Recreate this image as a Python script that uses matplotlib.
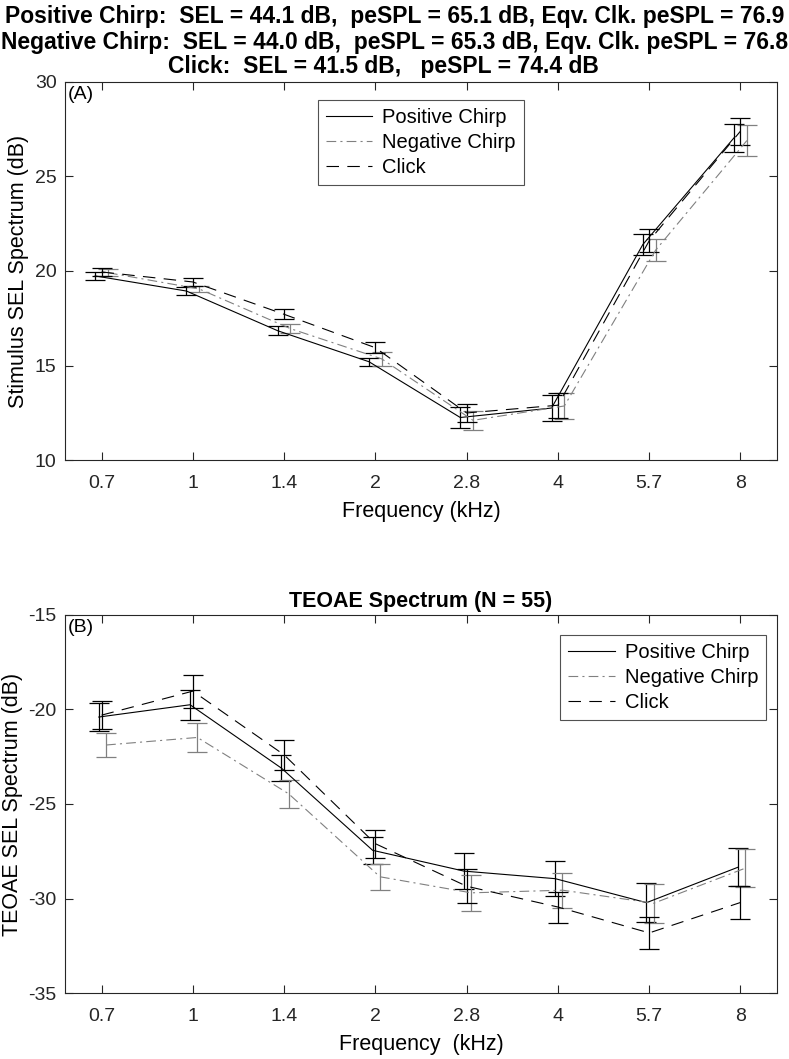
import matplotlib
matplotlib.use('Agg')
import matplotlib.pyplot as plt
import numpy as np

plt.rcParams['font.family'] = ['Liberation Sans', 'DejaVu Sans']
plt.rcParams['lines.scale_dashes'] = False

# frequency bands (kHz)
freqs = ['0.7', '1', '1.4', '2', '2.8', '4', '5.7', '8']

# (A) stimulus SEL spectrum, dB
sel_pos = [19.74, 18.94, 16.84, 15.20, 12.25, 12.75, 21.40, 27.05]
sel_pos_err = [0.22, 0.22, 0.25, 0.22, 0.55, 0.69, 0.55, 0.75]
sel_neg = [19.91, 19.05, 16.95, 15.35, 12.10, 12.86, 21.10, 26.90]
sel_neg_err = [0.18, 0.18, 0.25, 0.35, 0.50, 0.70, 0.57, 0.80]
sel_clk = [19.95, 19.42, 17.71, 15.94, 12.49, 12.90, 21.60, 27.40]
sel_clk_err = [0.21, 0.20, 0.26, 0.30, 0.50, 0.66, 0.60, 0.72]

# (B) TEOAE SEL spectrum, dB
oae_pos = [-20.40, -19.75, -23.10, -27.45, -28.55, -28.95, -30.22, -28.35]
oae_pos_err = [0.75, 0.80, 0.70, 0.70, 0.95, 0.93, 1.03, 1.00]
oae_neg = [-21.88, -21.48, -24.46, -28.85, -29.70, -29.56, -30.25, -28.40]
oae_neg_err = [0.61, 0.76, 0.75, 0.68, 0.95, 0.93, 1.03, 1.00]
oae_clk = [-20.30, -19.03, -22.40, -27.10, -29.35, -30.45, -31.82, -30.21]
oae_clk_err = [0.75, 0.88, 0.80, 0.75, 0.90, 0.82, 0.84, 0.88]

title_lines = ['Positive Chirp:  SEL = 44.1 dB,  peSPL = 65.1 dB, Eqv. Clk. peSPL = 76.9',
               'Negative Chirp:  SEL = 44.0 dB,  peSPL = 65.3 dB, Eqv. Clk. peSPL = 76.8',
               'Click:  SEL = 41.5 dB,   peSPL = 74.4 dB']

GRAY = (0.5, 0.5, 0.5)
x = np.arange(1, len(freqs) + 1)

fig = plt.figure(figsize=(7.89, 10.59), dpi=100)
axA = fig.add_axes([0.0824, 0.5656, 0.9024, 0.357])
axB = fig.add_axes([0.0824, 0.0623, 0.9024, 0.357])


def panel(ax, pos, pe, neg, ne, clk, ce, off, legloc, bbox):
    ax.errorbar(x + off[0], pos, yerr=pe, color='k', ls='-', lw=0.8,
                capsize=7, elinewidth=0.9, capthick=0.9, label='Positive Chirp')
    ax.errorbar(x + off[1], neg, yerr=ne, color=GRAY, ls=(0, (7, 3, 1.5, 3)), lw=0.8,
                capsize=7, elinewidth=0.9, capthick=0.9, label='Negative Chirp')
    ax.errorbar(x + off[2], clk, yerr=ce, color='k', ls=(0, (9, 6)), lw=0.8,
                capsize=7, elinewidth=0.9, capthick=0.9, label='Click')
    ax.set_xlim(0.6, 8.4)
    ax.set_xticks(x)
    ax.set_xticklabels(freqs)
    ax.tick_params(direction='in', top=True, right=True, length=6, width=0.8,
                   labelsize=14, colors='#262626')
    ax.tick_params(axis='x', pad=11)
    ax.tick_params(axis='y', pad=6)
    for s in ax.spines.values():
        s.set_linewidth(0.8)
        s.set_color('#262626')
    h, l = ax.get_legend_handles_labels()
    h = [hh[0] for hh in h]
    leg = ax.legend(h, l, loc=legloc, bbox_to_anchor=bbox, fontsize=14.5,
                    frameon=True, fancybox=False, handlelength=2.3,
                    borderpad=0.4, labelspacing=0.3, handletextpad=0.5,
                    borderaxespad=0)
    leg.get_frame().set_edgecolor('#262626')
    leg.get_frame().set_linewidth(0.8)


panel(axA, sel_pos, sel_pos_err, sel_neg, sel_neg_err, sel_clk, sel_clk_err,
      (-0.07, 0.07, 0.0), 'upper center', (0.5, 0.952))
axA.set_ylim(10, 30)
axA.set_yticks([10, 15, 20, 25, 30])
axA.set_xlabel('Frequency (kHz)', fontsize=15.5, labelpad=6)
axA.set_ylabel('Stimulus SEL Spectrum (dB)', fontsize=15.5, labelpad=4)
axA.text(0.004, 0.99, '(A)', transform=axA.transAxes, fontsize=14, va='top', ha='left')

# three title lines, as in the original figure header
for line, xc, yc in zip(title_lines, [0.5, 0.5, 0.486], [17, 42, 66]):
    fig.text(xc, 1 - yc / 1059, line, fontsize=16.5, fontweight='bold',
             ha='center', va='center')

panel(axB, oae_pos, oae_pos_err, oae_neg, oae_neg_err, oae_clk, oae_clk_err,
      (-0.03, 0.05, 0.0), 'upper right', (0.985, 0.947))
axB.set_ylim(-35, -15)
axB.set_yticks([-35, -30, -25, -20, -15])
axB.set_yticklabels(['-35', '-30', '-25', '-20', '-15'])
axB.set_xlabel('Frequency  (kHz)', fontsize=15.5, labelpad=6)
axB.set_ylabel('TEOAE SEL Spectrum (dB)', fontsize=15.5, labelpad=4)
axB.text(0.004, 0.99, '(B)', transform=axB.transAxes, fontsize=14, va='top', ha='left')
axB.set_title('TEOAE Spectrum (N = 55)', fontsize=15.5, fontweight='bold', pad=6)

fig.savefig('out.png', dpi=100)
